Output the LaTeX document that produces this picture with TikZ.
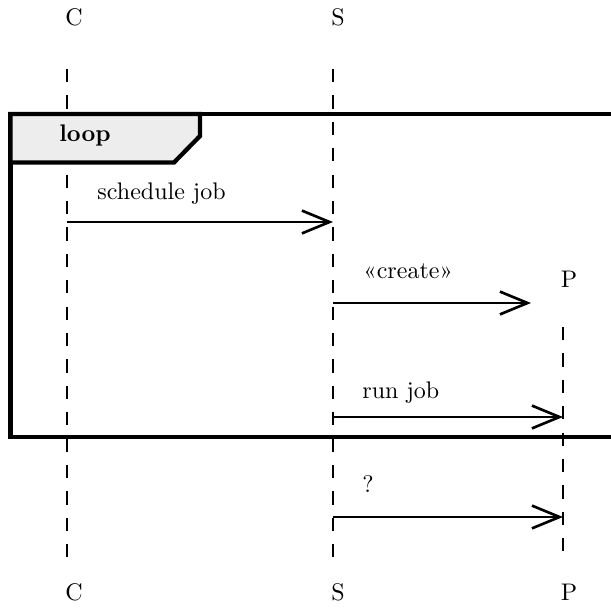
\documentclass[tikz,border=0pt]{standalone}
\usetikzlibrary{arrows.meta}
\begin{document}
\begin{tikzpicture}[x=0.41667pt,y=-0.41667pt,
  lifeline/.style={line width=0.45pt, dash pattern=on 5.5pt off 5.5pt},
  msg/.style={line width=1.1pt, -{Straight Barb[length=11.5pt,width=9.5pt,line width=1.1pt]}},
  framebox/.style={line width=1.8pt},
  tabbox/.style={draw, line width=1.8pt, fill=black!7, line join=miter},
  msglabel/.style={inner sep=0pt, anchor=base west},
  head/.style={inner sep=0pt, anchor=base}]
\useasboundingbox (0,0) rectangle (611,610);
% heads
\node[head] (Ct) at (74,26) {C};
\node[head] (St) at (338,26) {S};
\node[head] (Pt) at (569,288) {P};
\node[head] (Cb) at (74,601) {C};
\node[head] (Sb) at (338,601) {S};
\node[head] (Pb) at (569,601) {P};
% lifelines
\coordinate (Cl1) at (67,69);
\coordinate (Cl2) at (67,559);
\coordinate (Sl1) at (333,69);
\coordinate (Sl2) at (333,559);
\coordinate (Pl1) at (563,327);
\coordinate (Pl2) at (563,552);
\draw[lifeline] (Cl1) -- (Cl2);
\draw[lifeline] (Sl1) -- (Sl2);
\draw[lifeline] (Pl1) -- (Pl2);
% loop frame
\draw[framebox] (620,114) -- (10.5,114) -- (10.5,437) -- (620,437);
\path[tabbox] (10.5,114) -- (200,114) -- (200,136) -- (174,162.5) -- (10.5,162.5) -- cycle;
\node[inner sep=0pt, anchor=base] (loop) at (85,142) {\textbf{loop}};
% messages
\coordinate (m1a) at (67,222);
\coordinate (m1b) at (333,222);
\draw[msg] (m1a) -- (m1b);
\node[msglabel] (l1) at (97,200) {schedule job};
\coordinate (m2a) at (333,303);
\coordinate (m2b) at (531,303);
\draw[msg] (m2a) -- (m2b);
\node[msglabel] (l2) at (363,279) {«create»};
\coordinate (m3a) at (333,417);
\coordinate (m3b) at (563,417);
\draw[msg] (m3a) -- (m3b);
\node[msglabel] (l3) at (362,399) {run job};
\coordinate (m4a) at (333,517);
\coordinate (m4b) at (563,517);
\draw[msg] (m4a) -- (m4b);
\node[msglabel] (l4) at (362,493) {?};
\end{tikzpicture}
\end{document}
